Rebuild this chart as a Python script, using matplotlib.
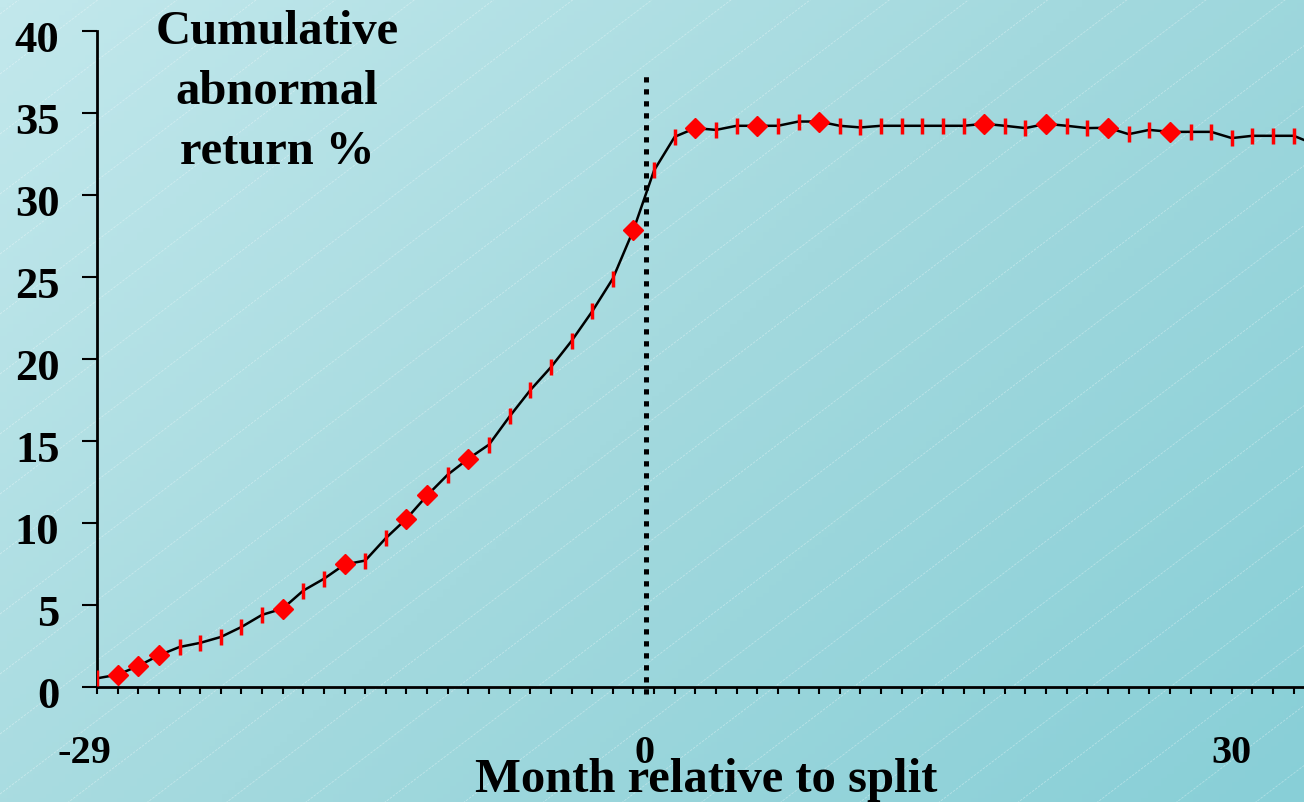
import numpy as np
import matplotlib
matplotlib.use("Agg")
import matplotlib.pyplot as plt
import matplotlib.transforms as mtransforms
from matplotlib.colors import LinearSegmentedColormap

# months -29 .. 30, cumulative abnormal return (%)
months = list(range(-29, 31))
car = [0.53, 0.75, 1.28, 1.93, 2.44, 2.69, 3.05, 3.66, 4.40, 4.78,
       5.88, 6.60, 7.47, 7.71, 9.08, 10.26, 11.68, 12.95, 13.92, 14.78,
       16.50, 18.10, 19.50, 21.10, 22.90, 24.90, 27.87, 31.50, 33.55, 34.08,
       33.97, 34.22, 34.22, 34.22, 34.48, 34.48, 34.22, 34.12, 34.22, 34.22,
       34.22, 34.22, 34.22, 34.34, 34.22, 34.08, 34.34, 34.22, 34.08, 34.10,
       33.71, 33.97, 33.85, 33.85, 33.85, 33.47, 33.61, 33.61, 33.61, 33.10]
diamond_idx = [1, 2, 3, 9, 12, 15, 16, 18, 26, 29, 32, 35, 43, 46, 49, 52]

# tick labels as placed on the slide (category positions)
xlabels = ["-29", "0", "30"]
xlabel_pos = [-0.63, 26.56, 54.97]
split_pos = 26.6
yticks = list(range(0, 41, 5))

plt.rcParams["font.family"] = ["Liberation Serif", "DejaVu Serif"]
plt.rcParams["font.weight"] = "bold"

W, H = 1304, 803
fig = plt.figure(figsize=(W / 100, H / 100), dpi=100)

# background: diagonal gradient with faint diagonal lines
bg = fig.add_axes([0, 0, 1, 1], zorder=-1)
cmap = LinearSegmentedColormap.from_list("bg", ["#c2e8ec", "#a3d9de", "#88cfd7"])
gx, gy = np.meshgrid(np.linspace(0, 1, 200), np.linspace(0, 1, 200))
bg.imshow(0.6 * gx + 0.4 * gy, cmap=cmap, extent=[0, W, H, 0], aspect="auto")
xs = np.array([0, W])
for c in np.arange(15, H + 0.76 * W + 60, 60):
    bg.plot(xs, c - 0.758 * xs, color="white", lw=0.6, alpha=0.35,
            ls=(0, (3, 1.5)))
bg.set_xlim(0, W)
bg.set_ylim(H, 0)
bg.axis("off")

ax = fig.add_axes([97 / W, 1 - 688 / H, 1 - 97 / W, (688 - 32) / H])
ax.set_facecolor("none")

x = np.arange(len(car))
ax.plot(x, car, color="black", lw=1.8, zorder=3)
tick_idx = [i for i in x if i not in diamond_idx]
ax.plot(x[tick_idx], np.array(car)[tick_idx], ls="none", marker="|",
        ms=11.5, mew=2.5, color="#ff0000", zorder=4)
ax.plot(x[diamond_idx], np.array(car)[diamond_idx], ls="none", marker="D",
        ms=10, color="#ff0000", zorder=4)

ax.plot([split_pos, split_pos], [-0.45, 37.4], color="black", lw=3.6,
        ls=(0, (1.05, 1.35)), clip_on=False, zorder=5)

for s in ["top", "right"]:
    ax.spines[s].set_visible(False)
for s in ["left", "bottom"]:
    ax.spines[s].set_linewidth(2)

ax.set_xticks(x)
ax.set_xticklabels([])
ax.tick_params(axis="x", length=5, width=1.5, direction="out")
ax.set_yticks(yticks)
ax.set_yticklabels([str(v) for v in yticks], fontsize=32, fontweight="bold")
ax.tick_params(axis="y", length=11, width=1.5, pad=16)
shift = mtransforms.ScaledTranslation(0, -5 / 100, fig.dpi_scale_trans)
for lab in ax.get_yticklabels():
    lab.set_transform(lab.get_transform() + shift)
# limits after the ticks, so set_xticks does not widen the view
ax.set_xlim(0, 58.5)
ax.set_ylim(0, 40)

trans = ax.get_xaxis_transform()
for p, lab in zip(xlabel_pos, xlabels):
    ax.text(p, -0.1, lab, transform=trans, ha="center", va="center",
            fontsize=29, fontweight="bold", clip_on=False)

fig.text(706 / W, 1 - 780 / H, "Month relative to split", ha="center",
         va="center", fontsize=35, fontweight="bold")
fig.text(277 / W, 1 - 10 / H, "Cumulative\nabnormal\nreturn %", ha="center",
         va="top", fontsize=35, fontweight="bold", linespacing=1.47)

fig.savefig("out.png", dpi=100)
